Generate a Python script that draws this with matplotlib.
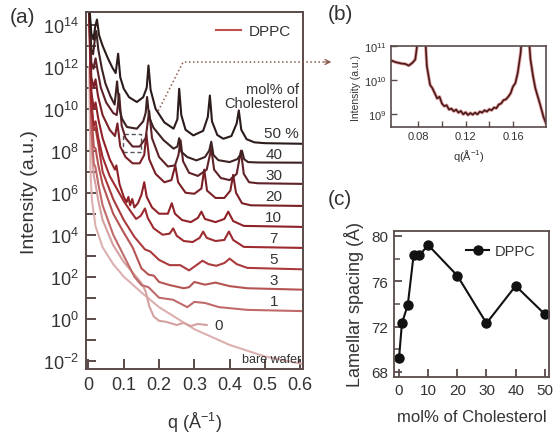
import matplotlib
matplotlib.use("Agg")
import matplotlib.pyplot as plt
from matplotlib.lines import Line2D
from matplotlib.patches import Rectangle

plt.rcParams['font.family'] = ['Liberation Sans', 'DejaVu Sans']
plt.rcParams['mathtext.default'] = 'regular'

# ---- panel (a): reflectivity curves, q (1/A) and log10 intensity ----
q50 = [0.002,0.008,0.014,0.019,0.024,0.030,0.040,0.055,0.068,0.077,0.084,0.090,0.100,0.115,0.137,0.155,0.165,0.170,0.176,0.190,0.215,0.241,0.252,0.257,0.263,0.275,0.297,0.325,0.338,0.344,0.350,0.365,0.382,0.405,0.420,0.426,0.433,0.448,0.470,0.500,0.610]
L50 = [15.0,13.6,13.3,13.9,14.25,13.5,13.0,12.4,11.95,11.7,12.62,11.5,10.95,10.55,10.32,10.55,11.0,12.06,10.9,10.0,9.35,9.05,9.5,10.95,9.7,9.0,8.73,8.95,9.6,10.63,9.4,8.75,8.57,8.7,9.3,9.92,9.0,8.55,8.4,8.36,8.33]
q40 = [0.002,0.008,0.013,0.018,0.022,0.028,0.038,0.048,0.062,0.074,0.081,0.088,0.095,0.109,0.137,0.155,0.162,0.166,0.172,0.184,0.213,0.241,0.252,0.257,0.263,0.280,0.306,0.330,0.342,0.348,0.354,0.368,0.400,0.422,0.430,0.435,0.441,0.452,0.480,0.610]
L40 = [15.0,12.8,12.6,13.3,13.7,12.8,11.9,11.2,10.6,10.2,11.3,10.0,9.52,9.13,9.05,9.4,9.8,10.56,9.6,9.1,8.5,8.1,8.2,8.6,7.95,7.7,7.54,7.7,8.0,8.43,7.8,7.55,7.46,7.6,7.8,8.0,7.6,7.46,7.44,7.43]
q30 = [0.002,0.008,0.014,0.020,0.026,0.035,0.050,0.070,0.080,0.087,0.094,0.105,0.125,0.145,0.162,0.172,0.180,0.200,0.225,0.245,0.255,0.261,0.268,0.285,0.310,0.335,0.348,0.356,0.375,0.400,0.420,0.432,0.440,0.455,0.480,0.610]
L30 = [15.0,12.2,11.9,12.4,11.8,11.0,10.3,9.8,9.7,10.7,9.2,8.6,8.2,8.2,8.6,9.9,8.6,7.7,7.25,7.3,7.8,8.5,7.5,6.95,6.8,7.1,8.1,7.1,6.7,6.6,6.9,8.0,6.9,6.5,6.45,6.42]
q20 = [0.002,0.008,0.015,0.020,0.027,0.040,0.060,0.075,0.082,0.090,0.105,0.125,0.145,0.158,0.164,0.172,0.190,0.215,0.235,0.246,0.254,0.275,0.300,0.320,0.328,0.336,0.360,0.385,0.402,0.410,0.418,0.435,0.460,0.610]
L20 = [15.0,11.5,11.0,11.4,10.6,9.7,9.0,8.7,9.3,8.2,7.7,7.4,7.4,7.8,8.8,7.6,6.9,6.5,6.6,7.3,6.5,6.0,5.95,6.2,7.1,6.1,5.75,5.75,6.1,6.85,6.0,5.5,5.4,5.37]
q10 = [0.002,0.008,0.015,0.020,0.028,0.040,0.060,0.075,0.079,0.088,0.100,0.108,0.113,0.118,0.124,0.130,0.140,0.150,0.158,0.165,0.180,0.200,0.225,0.236,0.245,0.265,0.290,0.310,0.320,0.330,0.360,0.385,0.396,0.410,0.440,0.610]
L10 = [15.0,10.8,10.0,10.3,9.5,8.6,7.6,7.1,7.3,6.4,5.8,5.55,5.8,5.4,5.7,5.3,5.5,5.9,6.5,5.8,5.3,5.0,5.0,5.5,5.0,4.7,4.6,4.8,5.1,4.75,4.6,4.75,5.1,4.65,4.42,4.37]
q7 = [0.002,0.008,0.015,0.020,0.028,0.040,0.060,0.080,0.100,0.120,0.135,0.148,0.160,0.168,0.185,0.210,0.230,0.240,0.250,0.270,0.295,0.315,0.325,0.335,0.360,0.385,0.398,0.410,0.440,0.610]
L7 = [15.0,10.0,9.2,9.4,8.6,7.7,6.8,6.2,5.6,5.1,4.75,4.9,5.25,4.8,4.3,4.0,4.05,4.3,3.95,3.7,3.65,3.85,4.15,3.85,3.7,3.75,4.15,3.75,3.42,3.37]
q5 = [0.002,0.008,0.015,0.020,0.028,0.040,0.070,0.100,0.130,0.160,0.175,0.200,0.230,0.260,0.285,0.310,0.323,0.340,0.362,0.385,0.400,0.420,0.450,0.610]
L5 = [15.0,10.5,9.0,9.1,8.3,7.0,5.7,4.7,3.9,3.3,3.2,2.8,2.55,2.55,2.3,2.6,2.76,2.6,2.52,2.65,2.86,2.6,2.42,2.35]
q3 = [0.002,0.008,0.015,0.020,0.028,0.040,0.070,0.100,0.125,0.150,0.170,0.185,0.200,0.230,0.270,0.285,0.300,0.330,0.360,0.400,0.450,0.610]
L3 = [15.0,9.8,8.2,8.1,7.3,6.4,5.0,4.1,3.4,2.4,2.1,2.05,1.75,1.6,1.45,1.5,1.75,1.62,1.72,1.55,1.45,1.38]
q1 = [0.002,0.008,0.015,0.020,0.028,0.040,0.070,0.100,0.130,0.150,0.170,0.200,0.240,0.280,0.300,0.330,0.370,0.450,0.610]
L1 = [15.0,9.0,7.4,7.2,6.4,5.4,4.0,3.0,2.0,1.6,1.5,1.0,0.9,0.55,0.8,0.75,0.55,0.42,0.36]
q0 = [0.002,0.008,0.015,0.020,0.028,0.040,0.070,0.100,0.130,0.150,0.162,0.172,0.185,0.200,0.220,0.250,0.270,0.290,0.310,0.335]
L0 = [15.0,8.3,6.8,6.4,5.6,4.7,3.5,2.7,2.1,1.7,1.3,0.6,0.1,-0.1,-0.15,-0.3,-0.2,-0.35,-0.25,-0.3]
qb = [0.002,0.006,0.010,0.020,0.040,0.070,0.100,0.150,0.200,0.300,0.400,0.500,0.610]
Lb = [12.0,6.8,5.6,4.4,3.4,2.6,2.0,1.25,0.55,-0.5,-1.25,-1.8,-2.17]

curves = [(qb, Lb), (q0, L0), (q1, L1), (q3, L3), (q5, L5), (q7, L7),
          (q10, L10), (q20, L20), (q30, L30), (q40, L40), (q50, L50)]
curve_colors = ['#ddb0b0', '#d4a0a0', '#c06a6a', '#b65454', '#aa3a3c', '#9e2b30',
                '#8f2229', '#7a2026', '#5e2228', '#3e2222', '#2b1b1b']
curve_labels = ['bare wafer', '0', '1', '3', '5', '7', '10', '20', '30', '40', '50 %']

# ---- panel (b): zoom of one curve ----
qz = [0.055,0.061,0.066,0.069,0.072,0.075,0.0775,0.079,0.0805,0.083,0.0855,0.0873,0.090,0.092,0.094,0.096,0.098,0.100,0.102,0.104,
      0.106,0.108,0.110,0.112,0.114,0.116,0.118,0.120,0.122,0.124,0.126,0.128,0.130,0.132,0.134,0.136,0.138,0.140,0.142,0.144,
      0.146,0.148,0.150,0.152,0.154,0.156,0.158,0.160,0.162,0.164,0.1665,0.170,0.1735,0.1748,0.177,0.1789,0.181,0.1831,0.1858,0.188]
Lz = [10.6,10.52,10.48,10.47,10.42,10.5,10.6,11.0,12.0,13.0,11.5,10.4,9.85,9.75,9.6,9.45,9.5,9.3,9.22,9.25,
      9.12,9.15,9.07,9.12,9.03,9.08,8.98,9.04,8.96,9.02,8.97,9.03,8.98,9.06,9.03,9.1,9.06,9.13,9.1,9.18,
      9.16,9.27,9.3,9.4,9.42,9.5,9.6,9.8,9.9,10.2,10.8,12.5,11.2,10.6,10.1,9.75,9.5,9.25,8.9,8.7]

# ---- panel (c): lamellar spacing ----
chol = [0, 1, 3, 5, 7, 10, 20, 30, 40, 50]
spacing = [69.2, 72.3, 73.9, 78.3, 78.3, 79.2, 76.5, 72.3, 75.6, 73.1]

spine_c = '#5a4a4a'
text_c = '#333333'

fig = plt.figure(figsize=(5.55, 4.39), dpi=100)
fig.patch.set_facecolor('white')

def style_axes(ax, lw=1.4):
    for s in ax.spines.values():
        s.set_color(spine_c)
        s.set_linewidth(lw)
    ax.tick_params(which='both', direction='in', colors=spine_c, labelcolor=text_c)

# (a)
ax = fig.add_axes([0.155, 0.157, 0.391, 0.813])
for (qq, LL), c in zip(curves, curve_colors):
    ax.plot(qq, [10 ** v for v in LL], color=c, lw=1.5, solid_joinstyle='round')
ax.set_yscale('log')
ax.set_xlim(-0.007, 0.608)
ax.set_ylim(10 ** -2.4, 10 ** 14.6)
ax.set_xticks([0, 0.1, 0.2, 0.3, 0.4, 0.5, 0.6])
ax.set_xticklabels(['0', '0.1', '0.2', '0.3', '0.4', '0.5', '0.6'])
ax.set_yticks([10.0 ** k for k in range(-2, 15)])
ax.set_yticklabels([r'$10^{%d}$' % k if k % 2 == 0 else '' for k in range(-2, 15)])
ax.yaxis.set_minor_locator(matplotlib.ticker.NullLocator())
style_axes(ax)
ax.tick_params(axis='both', labelsize=13, length=7, width=1.4, pad=5)
ax.set_xlabel(r'q ($\AA^{-1}$)', fontsize=13, color=text_c, labelpad=12)
ax.set_ylabel('Intensity (a.u.)', fontsize=14, color=text_c, labelpad=4)

lab_y = [-1.9, -0.3, 0.85, 1.85, 2.85, 3.85, 4.85, 5.85, 6.85, 7.85, 8.85]
for lab, ly in zip(curve_labels, lab_y):
    if lab == 'bare wafer':
        ax.text(0.604, 10 ** ly, lab, fontsize=9, color=text_c, ha='right', va='center')
    elif lab == '0':
        ax.text(0.37, 10 ** ly, lab, fontsize=11, color=text_c, ha='center', va='center')
    elif lab == '50 %':
        ax.text(0.596, 10 ** ly, lab, fontsize=11, color=text_c, ha='right', va='center')
    else:
        ax.text(0.525, 10 ** ly, lab, fontsize=11, color=text_c, ha='center', va='center')
ax.text(0.596, 10 ** 10.95, 'mol% of', fontsize=10.5, color=text_c, ha='right', va='center')
ax.text(0.596, 10 ** 10.25, 'Cholesterol', fontsize=10.5, color=text_c, ha='right', va='center')
ax.add_patch(Rectangle((0.097, 10 ** 7.95), 0.051, 10 ** 8.81 - 10 ** 7.95, fill=False,
                       ls=(0, (3, 2)), lw=1.0, ec='#555555'))
ax.legend([Line2D([], [], color='#c0504d', lw=1.5)], ['DPPC'], loc='upper right',
          frameon=False, fontsize=11, handlelength=1.6, handletextpad=0.5,
          borderaxespad=0.4, labelcolor=text_c)
fig.text(0.018, 0.96, '(a)', fontsize=15, color=text_c, va='center')

# dotted pointer from (a) to (b)
fig.add_artist(Line2D([0.285, 0.330, 0.592], [0.745, 0.8565, 0.8565],
                      transform=fig.transFigure, color='#8a5a4a', ls=':', lw=1.1))
fig.add_artist(matplotlib.patches.FancyArrowPatch((0.58, 0.8565), (0.602, 0.8565),
               transform=fig.transFigure, arrowstyle='->', mutation_scale=9,
               color='#8a5a4a', lw=0.9))

# (b)
bx = fig.add_axes([0.7045, 0.708, 0.2795, 0.185])
bx.plot(qz, [10 ** v for v in Lz], color='#c04040', lw=2.4, alpha=0.5)
bx.plot(qz, [10 ** v for v in Lz], color='#4a1a1a', lw=1.2)
bx.set_yscale('log')
bx.set_xlim(0.057, 0.188)
bx.set_ylim(10 ** 8.6, 10 ** 11)
bx.set_xticks([0.08, 0.10, 0.12, 0.14, 0.16])
bx.set_xticklabels(['0.08', '', '0.12', '', '0.16'])
bx.set_yticks([1e9, 1e10, 1e11])
bx.set_yticklabels([r'$10^{9}$', r'$10^{10}$', r'$10^{11}$'])
bx.yaxis.set_minor_locator(matplotlib.ticker.NullLocator())
style_axes(bx, lw=1.2)
bx.tick_params(axis='both', labelsize=8, length=4, width=1.0, pad=3)
bx.set_xlabel(r'q($\AA^{-1}$)', fontsize=8, color=text_c, labelpad=4)
bx.set_ylabel('Intensity (a.u.)', fontsize=7.5, color=text_c, labelpad=2)
fig.text(0.59, 0.966, '(b)', fontsize=15, color=text_c, va='center')

# (c)
cx = fig.add_axes([0.710, 0.139, 0.279, 0.3325])
cx.plot(chol, spacing, color='#111111', lw=1.5, marker='o', ms=6.5, label='DPPC')
cx.set_xlim(-1.7, 51.4)
cx.set_ylim(67.56, 80.44)
cx.set_xticks([0, 10, 20, 30, 40, 50])
cx.set_yticks([68, 72, 76, 80])
cx.set_yticks([70, 74, 78], minor=True)
style_axes(cx, lw=1.3)
cx.tick_params(axis='both', which='major', labelsize=11, length=6, width=1.3, pad=4)
cx.tick_params(axis='y', which='minor', length=4, width=1.1)
cx.set_xlabel('mol% of Cholesterol', fontsize=12, color=text_c, labelpad=9)
cx.set_ylabel(r'Lamellar spacing ($\AA$)', fontsize=13, color=text_c, labelpad=4)
cx.legend(loc='upper right', frameon=False, fontsize=10.5, handlelength=1.6,
          handletextpad=0.4, labelcolor=text_c, borderaxespad=0.5)
fig.text(0.59, 0.545, '(c)', fontsize=15, color=text_c, va='center')

fig.savefig('out.png', dpi=100)
